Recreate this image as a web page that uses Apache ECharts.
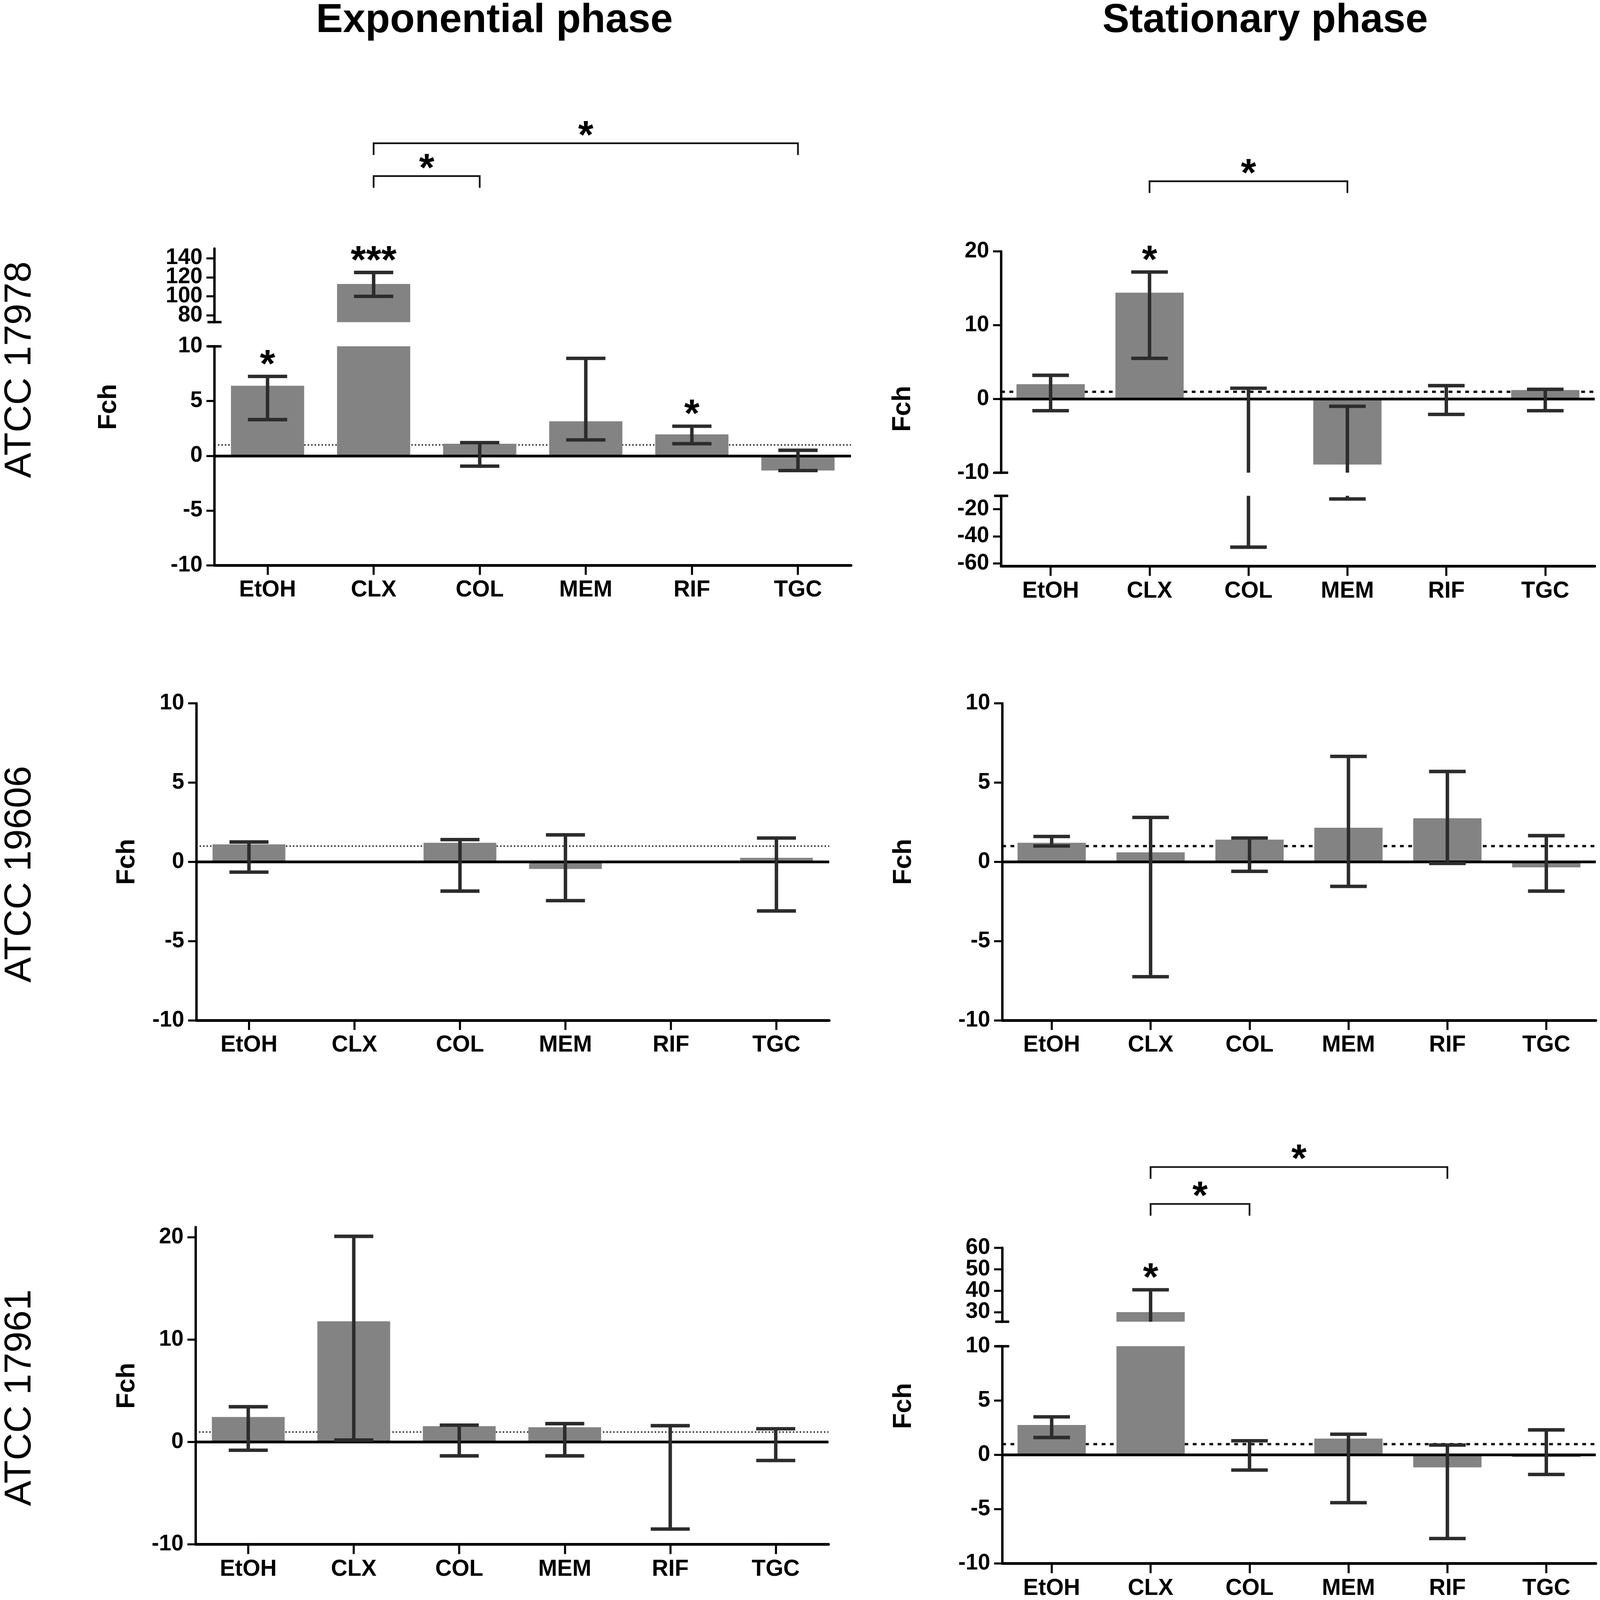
<!DOCTYPE html>
<html>
<head>
<meta charset="utf-8">
<script src="https://cdn.jsdelivr.net/npm/echarts@6/dist/echarts.min.js"></script>
<style>
html,body{margin:0;padding:0;background:#ffffff;overflow:hidden;}
#chart{width:100vw;height:100vh;}
</style>
</head>
<body>
<div id="chart"></div>
<script>
// ---------------- DATA ----------------
const categories = ['EtOH', 'CLX', 'COL', 'MEM', 'RIF', 'TGC'];
const columnTitles = ['Exponential phase', 'Stationary phase'];
const strainLabels = ['ATCC 17978', 'ATCC 19606', 'ATCC 17961'];
const yAxisName = 'Fch';

// ATCC 17978 – exponential phase
const exp17978Mean = [6.4, 113, 1.1, 3.15, 1.95, -1.35];
const exp17978Low  = [3.3, 100, -0.95, 1.45, 1.1, -1.35];
const exp17978High = [7.25, 125, 1.2, 8.9, 2.7, 0.5];
// ATCC 17978 – stationary phase
const stat17978Mean = [2.0, 14.4, 0, -8.9, 0, 1.2];
const stat17978Low  = [-1.6, 5.5, -48, -12.6, -2.1, -1.6];
const stat17978High = [3.2, 17.2, 1.45, -1.0, 1.8, 1.3];
// ATCC 19606 – exponential phase
const exp19606Mean = [1.1, 0, 1.2, -0.45, 0, 0.25];
const exp19606Low  = [-0.65, null, -1.85, -2.45, null, -3.1];
const exp19606High = [1.25, null, 1.4, 1.7, null, 1.5];
// ATCC 19606 – stationary phase
const stat19606Mean = [1.2, 0.6, 1.4, 2.15, 2.75, -0.35];
const stat19606Low  = [1.0, -7.25, -0.6, -1.55, -0.1, -1.85];
const stat19606High = [1.6, 2.8, 1.5, 6.65, 5.7, 1.65];
// ATCC 17961 – exponential phase
const exp17961Mean = [2.45, 11.8, 1.55, 1.45, 0.1, 0.1];
const exp17961Low  = [-0.8, 0.2, -1.35, -1.35, -8.5, -1.8];
const exp17961High = [3.45, 20.1, 1.65, 1.8, 1.6, 1.3];
// ATCC 17961 – stationary phase
const stat17961Mean = [2.75, 30, 0, 1.5, -1.15, -0.2];
const stat17961Low  = [1.6, 22, -1.4, -4.4, -7.7, -1.8];
const stat17961High = [3.5, 40.4, 1.3, 1.9, 0.9, 2.3];

// significance marks
const exp17978Stars = [{cat: 'EtOH', text: '*'}, {cat: 'CLX', text: '***'}, {cat: 'RIF', text: '*'}];
const exp17978Brackets = [{from: 'CLX', to: 'COL', text: '*'}, {from: 'CLX', to: 'TGC', text: '*'}];
const stat17978Stars = [{cat: 'CLX', text: '*'}];
const stat17978Brackets = [{from: 'CLX', to: 'MEM', text: '*'}];
const stat17961Stars = [{cat: 'CLX', text: '*'}];
const stat17961Brackets = [{from: 'CLX', to: 'COL', text: '*'}, {from: 'CLX', to: 'RIF', text: '*'}];

// axis tick labels
const ticksTen = [-10, -5, 0, 5, 10];
const ticksHigh17978 = [80, 100, 120, 140];
const ticksStatUpper = [-10, 0, 10, 20];
const ticksStatLower = [-60, -40, -20];
const ticksExp17961 = [-10, 0, 10, 20];
const ticksStat17961Upper = [30, 40, 50, 60];

// ---------------- STYLE / LAYOUT (reference pixel space 4550 x 4634) ----------------
const REF_W = 4550, REF_H = 4634;
const W = window.innerWidth || REF_W, H = window.innerHeight || REF_H;
const SX = W / REF_W, SY = H / REF_H, SF = Math.min(SX, SY);
const FONT = "'Liberation Sans', Arial, Helvetica, sans-serif";
const BAR_COLOR = '#838383';
const ERR_COLOR = '#2c2c2c';
const INK = '#000000';

const panels = [
  { mean: exp17978Mean, low: exp17978Low, high: exp17978High, left: 610, width: 1810, side: 'left', fchX: 310,
    stars: exp17978Stars, brackets: exp17978Brackets, bracketRise: [210, 305],
    segs: [
      {top: 720, height: 213, min: 73, max: 150, ticks: ticksHigh17978, breakBottom: true},
      {top: 1003, height: 634, min: -10, max: 10, ticks: ticksTen, breakTop: true}
    ]},
  { mean: stat17978Mean, low: stat17978Low, high: stat17978High, left: 2847, width: 1688, side: 'right', fchX: 2568,
    stars: stat17978Stars, brackets: stat17978Brackets, bracketRise: [203],
    segs: [
      {top: 728, height: 641, min: -10, max: 20, ticks: ticksStatUpper, breakBottom: true},
      {top: 1436, height: 204, min: -62, max: -10.3, ticks: ticksStatLower, breakTop: true}
    ]},
  { mean: exp19606Mean, low: exp19606Low, high: exp19606High, left: 558, width: 1800, side: 'left', fchX: 362,
    stars: [], brackets: [], bracketRise: [],
    segs: [ {top: 2037, height: 918, min: -10, max: 10, ticks: ticksTen} ]},
  { mean: stat19606Mean, low: stat19606Low, high: stat19606High, left: 2850, width: 1688, side: 'right', fchX: 2570,
    stars: [], brackets: [], bracketRise: [],
    segs: [ {top: 2037, height: 918, min: -10, max: 10, ticks: ticksTen} ]},
  { mean: exp17961Mean, low: exp17961Low, high: exp17961High, left: 556, width: 1800, side: 'left', fchX: 362,
    stars: [], brackets: [], bracketRise: [],
    segs: [ {top: 3554, height: 919, min: -10, max: 21, ticks: ticksExp17961} ]},
  { mean: stat17961Mean, low: stat17961Low, high: stat17961High, left: 2850, width: 1688, side: 'right', fchX: 2570,
    stars: stat17961Stars, brackets: stat17961Brackets, bracketRise: [127, 234],
    segs: [
      {top: 3614, height: 214, min: 25.5, max: 60, ticks: ticksStat17961Upper, breakBottom: true},
      {top: 3899, height: 631, min: -10, max: 10, ticks: ticksTen, breakTop: true}
    ]}
];

const titleLayout = [{x: 1406, y: 60}, {x: 3598, y: 60}];
const strainLayout = [{x: 57, y: 1071}, {x: 57, y: 2532}, {x: 57, y: 4048}];

// ---------------- BUILD ----------------
const grids = [], xAxes = [], yAxes = [], series = [];

function errorRender(seg) {
  return function (params, api) {
    const i = api.value(0), lo = api.value(1), hi = api.value(2);
    if (isNaN(lo) || isNaN(hi)) return null;
    const top = Math.min(hi, seg.max), bot = Math.max(lo, seg.min);
    if (top <= bot) return null;
    const pT = api.coord([i, top]), pB = api.coord([i, bot]);
    const half = api.size([1, 0])[0] * 0.185;
    const st = {stroke: ERR_COLOR, lineWidth: 10 * SF, lineCap: 'butt'};
    const ch = [{type: 'line', shape: {x1: pT[0], y1: pT[1], x2: pB[0], y2: pB[1]}, style: st}];
    if (hi <= seg.max) ch.push({type: 'line', shape: {x1: pT[0] - half, y1: pT[1], x2: pT[0] + half, y2: pT[1]}, style: st});
    if (lo >= seg.min) ch.push({type: 'line', shape: {x1: pB[0] - half, y1: pB[1], x2: pB[0] + half, y2: pB[1]}, style: st});
    return {type: 'group', children: ch};
  };
}

function starRender(texts) {
  return function (params, api) {
    const p = api.coord([api.value(0), api.value(1)]);
    return {type: 'text', x: p[0], y: p[1] - 30 * SY,
      style: {text: texts[params.dataIndex], fontSize: 114 * SF, fontWeight: 'bold', fontFamily: FONT,
              fill: INK, align: 'center', verticalAlign: 'middle'}};
  };
}

function bracketRender(panel, seg) {
  return function (params, api) {
    const b = panel.brackets[params.dataIndex];
    const rise = panel.bracketRise[params.dataIndex] * SY;
    const p1 = api.coord([api.value(0), seg.max]);
    const p2 = api.coord([api.value(1), seg.max]);
    const y = p1[1] - rise, tick = 34 * SY;
    return {type: 'group', children: [
      {type: 'polyline', shape: {points: [[p1[0], y + tick], [p1[0], y], [p2[0], y], [p2[0], y + tick]]},
       style: {stroke: '#151515', lineWidth: 5 * SF, fill: 'none'}},
      {type: 'text', x: (p1[0] + p2[0]) / 2, y: y - 18 * SY,
       style: {text: b.text, fontSize: 114 * SF, fontWeight: 'bold', fontFamily: FONT, fill: INK,
               align: 'center', verticalAlign: 'middle'}}
    ]};
  };
}

function valueAxis(g, seg, ticks, withLine) {
  return {
    type: 'value', gridIndex: g, position: 'left', offset: 0, min: seg.min, max: seg.max,
    axisLine: {show: withLine, onZero: false, lineStyle: {color: INK, width: 7 * SF},
               symbol: [seg.breakBottom ? 'rect' : 'none', seg.breakTop ? 'rect' : 'none'],
               symbolSize: [40 * SX, 7 * SF]},
    axisTick: {show: true, length: 23 * SX, lineStyle: {color: INK, width: 6 * SF}, customValues: ticks},
    axisLabel: {show: true, margin: 34 * SX, fontSize: 64 * SF, fontWeight: 'bold',
                fontFamily: FONT, color: INK, customValues: ticks,
                showMinLabel: true, showMaxLabel: true, hideOverlap: false},
    splitLine: {show: false}
  };
}

panels.forEach(function (panel) {
  const nSeg = panel.segs.length;
  panel.segs.forEach(function (seg, si) {
    const g = grids.length;
    const isLast = si === nSeg - 1;
    grids.push({left: panel.left * SX, top: seg.top * SY, width: panel.width * SX, height: seg.height * SY, containLabel: false});
    xAxes.push({
      type: 'category', gridIndex: g, data: categories, show: isLast,
      axisLine: {show: true, onZero: false, lineStyle: {color: INK, width: 8 * SF}},
      axisTick: {show: true, alignWithLabel: true, interval: 0, length: 28 * SY, lineStyle: {color: INK, width: 6 * SF}},
      axisLabel: {show: true, interval: 0, margin: 40 * SY, fontSize: 66 * SF, fontWeight: 'bold', fontFamily: FONT, color: INK},
      splitLine: {show: false}
    });
    // ticks split over two overlaid axes so that tightly packed labels are never thinned out
    const yi = yAxes.length;
    yAxes.push(valueAxis(g, seg, seg.ticks.filter(function (v, k) { return k % 2 === 0; }), true));
    yAxes.push(valueAxis(g, seg, seg.ticks.filter(function (v, k) { return k % 2 === 1; }), false));

    const hasOne = seg.min <= 1 && seg.max >= 1;
    const hasZero = seg.min <= 0 && seg.max >= 0;
    const refStyle = panel.side === 'left'
      ? {color: '#1a1a1a', width: 4 * SF, type: [4 * SF, 6 * SF]}
      : {color: '#111111', width: 7 * SF, type: [11 * SF, 13 * SF]};

    series.push({
      type: 'bar', xAxisIndex: g, yAxisIndex: yi, data: panel.mean, barWidth: '69%',
      itemStyle: {color: BAR_COLOR}, z: 2, clip: true, silent: true,
      markLine: hasOne ? {silent: true, z: 1, symbol: ['none', 'none'], label: {show: false},
                          lineStyle: refStyle, data: [{yAxis: 1}]} : undefined
    });

    const errData = [];
    categories.forEach(function (c, i) {
      if (panel.low[i] != null && panel.high[i] != null) errData.push([i, panel.low[i], panel.high[i]]);
    });
    series.push({
      type: 'custom', xAxisIndex: g, yAxisIndex: yi, data: errData, z: 6, clip: false, silent: true,
      encode: {x: 0, y: [1, 2]}, renderItem: errorRender(seg),
      markLine: hasZero ? {silent: true, z: 5, symbol: ['none', 'none'], label: {show: false},
                           lineStyle: {color: INK, width: 8 * SF, type: 'solid'}, data: [{yAxis: 0}]} : undefined
    });

    const segStars = panel.stars.filter(function (s) {
      const h = panel.high[categories.indexOf(s.cat)];
      return h >= seg.min && h <= seg.max;
    });
    if (segStars.length) {
      series.push({
        type: 'custom', xAxisIndex: g, yAxisIndex: yi, z: 7, clip: false, silent: true,
        data: segStars.map(function (s) { const i = categories.indexOf(s.cat); return [i, panel.high[i]]; }),
        encode: {x: 0, y: 1},
        renderItem: starRender(segStars.map(function (s) { return s.text; }))
      });
    }
    if (si === 0 && panel.brackets.length) {
      series.push({
        type: 'custom', xAxisIndex: g, yAxisIndex: yi, z: 7, clip: false, silent: true,
        data: panel.brackets.map(function (b) { return [categories.indexOf(b.from), categories.indexOf(b.to)]; }),
        encode: {x: [0, 1]},
        renderItem: bracketRender(panel, seg)
      });
    }
  });
});

const graphic = [];
columnTitles.forEach(function (t, i) {
  graphic.push({type: 'text', x: titleLayout[i].x * SX, y: titleLayout[i].y * SY, silent: true,
    style: {text: t, fontSize: 117 * SF, fontWeight: 'bold', fontFamily: FONT, fill: INK, align: 'center', verticalAlign: 'middle'}});
});
strainLabels.forEach(function (t, i) {
  graphic.push({type: 'text', x: strainLayout[i].x * SX, y: strainLayout[i].y * SY, rotation: Math.PI / 2, silent: true,
    style: {text: t, fontSize: 110 * SF, fontWeight: 'normal', fontFamily: FONT, fill: INK, align: 'center', verticalAlign: 'middle'}});
});
panels.forEach(function (panel) {
  const top = panel.segs[0].top;
  const last = panel.segs[panel.segs.length - 1];
  const cy = (top + last.top + last.height) / 2;
  graphic.push({type: 'text', x: panel.fchX * SX, y: cy * SY, rotation: Math.PI / 2, silent: true,
    style: {text: yAxisName, fontSize: 75 * SF, fontWeight: 'bold', fontFamily: FONT, fill: INK, align: 'center', verticalAlign: 'middle'}});
});

const chart = echarts.init(document.getElementById('chart'), null, {renderer: 'canvas'});
chart.setOption({
  animation: false,
  backgroundColor: '#ffffff',
  grid: grids,
  xAxis: xAxes,
  yAxis: yAxes,
  series: series,
  graphic: graphic
});
</script>
</body>
</html>
